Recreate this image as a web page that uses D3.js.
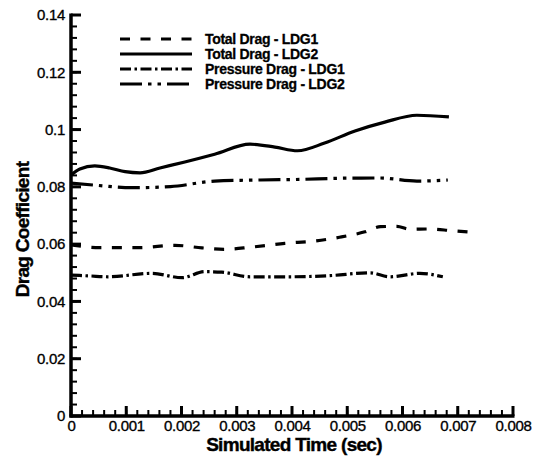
<!DOCTYPE html>
<html>
<head>
<meta charset="utf-8">
<script src="https://cdn.jsdelivr.net/npm/d3@7/dist/d3.min.js"></script>
<style>
  html, body { margin: 0; padding: 0; background: #fff; }
  svg { display: block; }
  .tick text { font-family: "Liberation Sans", Arial, sans-serif; font-size: 15px; fill: #000; stroke: #000; stroke-width: 0.35px; letter-spacing: -0.3px; }
  .title { font-family: "Liberation Sans", Arial, sans-serif; font-weight: bold; fill: #000; stroke: #000; stroke-width: 0.4px; }
  .legend text { font-family: "Liberation Sans", Arial, sans-serif; font-weight: bold; font-size: 14px; letter-spacing: -0.3px; fill: #000; stroke: #000; stroke-width: 0.3px; }
</style>
</head>
<body>
<svg id="chart" width="534" height="456"></svg>
<script>
// Time samples (sec) and drag coefficients for each run
const totalLdg1Time = [0, 0.00052, 0.00125, 0.00188, 0.00237, 0.00278, 0.00324, 0.00387, 0.00441, 0.00486, 0.00532, 0.00560, 0.00590, 0.00613, 0.00649, 0.00689, 0.00736];
const totalLdg1Cd   = [0.0597, 0.0588, 0.0588, 0.0596, 0.0587, 0.0582, 0.0589, 0.0603, 0.0611, 0.0624, 0.0643, 0.0661, 0.0662, 0.0652, 0.0653, 0.0647, 0.0640];

const totalLdg2Time = [0, 0.00016, 0.00043, 0.00070, 0.00098, 0.00125, 0.00161, 0.00206, 0.00260, 0.00324, 0.00369, 0.00410, 0.00459, 0.00514, 0.00568, 0.00626, 0.00684];
const totalLdg2Cd   = [0.0841, 0.0862, 0.0873, 0.0866, 0.0853, 0.0849, 0.0866, 0.0887, 0.0914, 0.0949, 0.0939, 0.0926, 0.0953, 0.0995, 0.1026, 0.1050, 0.1044];

const pressLdg1Time = [0, 0.00034, 0.00067, 0.00146, 0.00201, 0.00242, 0.00273, 0.00324, 0.00396, 0.00468, 0.00541, 0.00577, 0.00631, 0.00673];
const pressLdg1Cd   = [0.0492, 0.0489, 0.0486, 0.0498, 0.0483, 0.0504, 0.0502, 0.0486, 0.0486, 0.0490, 0.0500, 0.0486, 0.0498, 0.0486];

const pressLdg2Time = [0, 0.00043, 0.00110, 0.00180, 0.00260, 0.00342, 0.00414, 0.00486, 0.00559, 0.00626, 0.00682];
const pressLdg2Cd   = [0.0813, 0.0806, 0.0797, 0.0801, 0.0820, 0.0824, 0.0826, 0.0830, 0.0831, 0.0820, 0.0824];

const seriesNames = ["Total Drag - LDG1", "Total Drag - LDG2", "Pressure Drag - LDG1", "Pressure Drag - LDG2"];

const xTicks = [0, 0.001, 0.002, 0.003, 0.004, 0.005, 0.006, 0.007, 0.008];
const yTicks = [0, 0.02, 0.04, 0.06, 0.08, 0.1, 0.12, 0.14];
const xTitle = "Simulated Time (sec)";
const yTitle = "Drag Coefficient";

// Line styles per series
const styles = [
  { dash: "10,10.5" },
  { dash: null },
  { dash: "11,3.5,2.5,3.5" },
  { dash: "22,6,3.5,6,3.5,6" }
];

const series = [
  { name: seriesNames[0], t: totalLdg1Time, v: totalLdg1Cd },
  { name: seriesNames[1], t: totalLdg2Time, v: totalLdg2Cd },
  { name: seriesNames[2], t: pressLdg1Time, v: pressLdg1Cd },
  { name: seriesNames[3], t: pressLdg2Time, v: pressLdg2Cd }
];

const svg = d3.select("#chart");
const plotLeft = 71, plotRight = 513, plotTop = 15, plotBottom = 416;

const x = d3.scaleLinear().domain([0, 0.008]).range([plotLeft, plotRight]);
const y = d3.scaleLinear().domain([0, 0.14]).range([plotBottom, plotTop]);

const fmt = d => d === 0 ? "0" : String(+d.toFixed(4));

// Minor tick positions (5 subdivisions per major interval)
const xMinor = d3.range(0, 41).map(i => i * 0.0002);
const yMinor = d3.range(0, 36).map(i => i * 0.004);

const tickLayer = svg.append("g").attr("stroke", "#000");

// Inward tick marks on the bottom axis
tickLayer.selectAll("line.xminor")
  .data(xMinor)
  .join("line")
  .attr("class", "xminor")
  .attr("x1", d => x(d)).attr("x2", d => x(d))
  .attr("y1", plotBottom).attr("y2", plotBottom - 6)
  .attr("stroke-width", 2);
tickLayer.selectAll("line.xmajor")
  .data(xTicks)
  .join("line")
  .attr("class", "xmajor")
  .attr("x1", d => x(d)).attr("x2", d => x(d))
  .attr("y1", plotBottom).attr("y2", plotBottom - 10)
  .attr("stroke-width", 3);

// Inward tick marks on the left axis
tickLayer.selectAll("line.yminor")
  .data(yMinor)
  .join("line")
  .attr("class", "yminor")
  .attr("x1", plotLeft).attr("x2", plotLeft + 6)
  .attr("y1", d => y(d)).attr("y2", d => y(d))
  .attr("stroke-width", 2);
tickLayer.selectAll("line.ymajor")
  .data(yTicks)
  .join("line")
  .attr("class", "ymajor")
  .attr("x1", plotLeft).attr("x2", plotLeft + 10)
  .attr("y1", d => y(d)).attr("y2", d => y(d))
  .attr("stroke-width", 3);

// Tick labels via d3 axes (tick marks suppressed)
const xAxis = svg.append("g")
  .attr("transform", `translate(0,${plotBottom})`)
  .call(d3.axisBottom(x).tickValues(xTicks).tickSize(0).tickPadding(4).tickFormat(fmt));
xAxis.select(".domain").remove();
xAxis.selectAll(".tick text").attr("dy", "0.71em");

const yAxis = svg.append("g")
  .attr("transform", `translate(${plotLeft},0)`)
  .call(d3.axisLeft(y).tickValues(yTicks).tickSize(0).tickPadding(6).tickFormat(fmt));
yAxis.select(".domain").remove();

// Heavy axis lines
svg.append("line")
  .attr("x1", x(0) - 1.5).attr("x2", x(0.008) + 1.5)
  .attr("y1", y(0)).attr("y2", y(0))
  .attr("stroke", "#000").attr("stroke-width", 3.5);
svg.append("line")
  .attr("x1", x(0)).attr("x2", x(0))
  .attr("y1", y(0) + 1.5).attr("y2", y(0.14) - 1.5)
  .attr("stroke", "#000").attr("stroke-width", 3.5);

// Axis titles
svg.append("text")
  .attr("class", "title")
  .attr("x", (plotLeft + plotRight) / 2 + 2)
  .attr("y", 451)
  .attr("text-anchor", "middle")
  .style("font-size", "19px")
  .style("letter-spacing", "-0.7px")
  .text(xTitle);

svg.append("text")
  .attr("class", "title")
  .attr("transform", `translate(29,${(plotTop + plotBottom) / 2 + 14}) rotate(-90)`)
  .attr("text-anchor", "middle")
  .style("font-size", "19px")
  .style("letter-spacing", "-0.7px")
  .text(yTitle);

// Curves
const line = d3.line()
  .x(d => x(d[0]))
  .y(d => y(d[1]))
  .curve(d3.curveMonotoneX);

series.forEach((s, i) => {
  const pts = s.t.map((t, k) => [t, s.v[k]]);
  svg.append("path")
    .datum(pts)
    .attr("fill", "none")
    .attr("stroke", "#000")
    .attr("stroke-width", 3.2)
    .attr("stroke-dasharray", styles[i].dash)
    .attr("d", line);
});

// Legend
const legend = svg.append("g").attr("class", "legend");
seriesNames.forEach((name, i) => {
  const ly = 39 + i * 15;
  legend.append("line")
    .attr("x1", 120).attr("x2", 192)
    .attr("y1", ly).attr("y2", ly)
    .attr("stroke", "#000")
    .attr("stroke-width", 3.2)
    .attr("stroke-dasharray", styles[i].dash);
  legend.append("text")
    .attr("x", 205)
    .attr("y", ly)
    .attr("dy", "0.35em")
    .text(name);
});
</script>
</body>
</html>
